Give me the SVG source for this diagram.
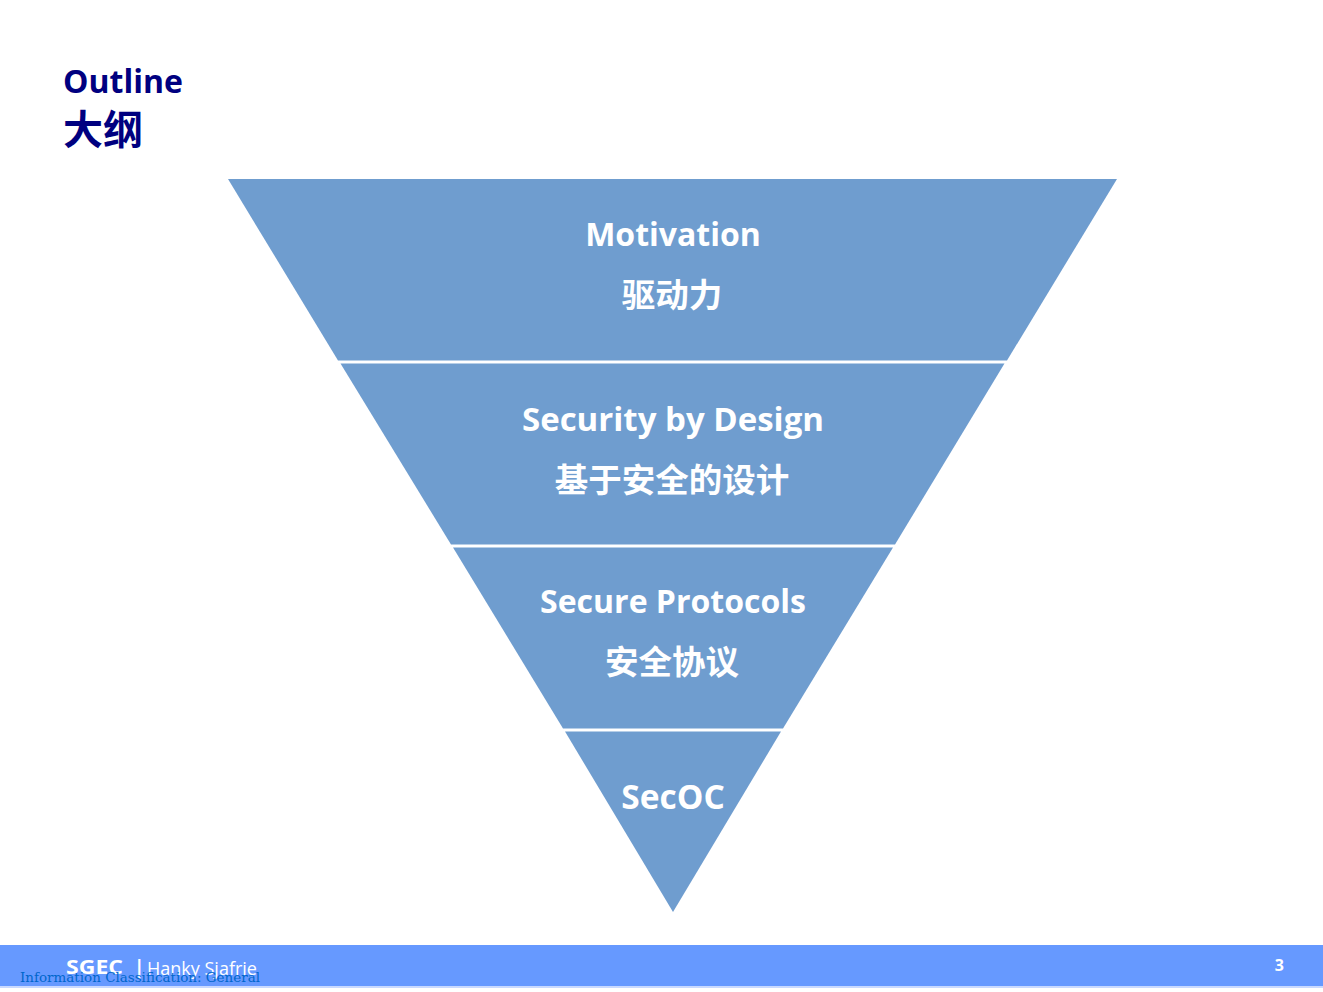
<svg xmlns="http://www.w3.org/2000/svg" width="1323" height="992" viewBox="0 0 1323 992">
<style>
.band{fill:#6F9DCF;}
.en{font-family:"Open Sans",Lato,"Noto Sans CJK SC",sans-serif;font-weight:bold;font-size:32px;fill:#FFFFFF;text-anchor:middle;}
.cn{font-family:"Noto Sans CJK SC",sans-serif;font-weight:bold;font-size:33.5px;fill:#FFFFFF;text-anchor:middle;}
.title{font-family:"Open Sans","Noto Sans CJK SC",sans-serif;font-weight:bold;fill:#000080;}
.ft{font-family:"Open Sans",Lato,sans-serif;fill:#FFFFFF;}
</style>
<rect x="0" y="0" width="1323" height="992" fill="#FFFFFF"/>
<g id="title">
<text class="title" x="63" y="93" font-size="32">Outline</text>
<text class="title" x="63" y="144" font-size="40">大纲</text>
</g>
<g id="node-motivation">
<polygon class="band" points="228,179 1117,179 1007,360.5 338,360.5"/>
<text class="en" x="673" y="246">Motivation</text>
<text class="cn" x="672" y="307">驱动力</text>
</g>
<g id="node-security-by-design">
<polygon class="band" points="340.5,363.5 1004.5,363.5 895,544.5 451,544.5"/>
<text class="en" x="673" y="431" style="font-size:33px">Security by Design</text>
<text class="cn" x="672" y="492">基于安全的设计</text>
</g>
<g id="node-secure-protocols">
<polygon class="band" points="453,547.5 893,547.5 783,728.5 563,728.5"/>
<text class="en" x="673" y="613">Secure Protocols</text>
<text class="cn" x="672" y="674">安全协议</text>
</g>
<g id="node-secoc">
<polygon class="band" points="565,731.5 781,731.5 673,912"/>
<text class="en" x="673" y="809" style="font-size:33.5px">SecOC</text>
</g>
<g id="connectors"></g>
<g id="footer">
<rect x="0" y="945" width="1323" height="41" fill="#6699FF"/>
<rect x="0" y="986" width="1323" height="2" fill="#C9D9FF"/>
<text class="ft" x="66" y="974" font-weight="bold" font-size="19" textLength="57" lengthAdjust="spacingAndGlyphs">SGEC</text>
<text class="ft" x="134" y="974" font-weight="bold" font-size="19">|</text>
<text class="ft" x="147" y="975" font-size="18">Hanky Sjafrie</text>
<text x="20" y="982" font-family="'DejaVu Serif','Liberation Serif',serif" font-size="13" fill="#0066CC" textLength="240" lengthAdjust="spacingAndGlyphs">Information Classification: General</text>
<text class="ft" x="1284" y="971" font-weight="bold" font-size="16" text-anchor="end">3</text>
</g>
</svg>
